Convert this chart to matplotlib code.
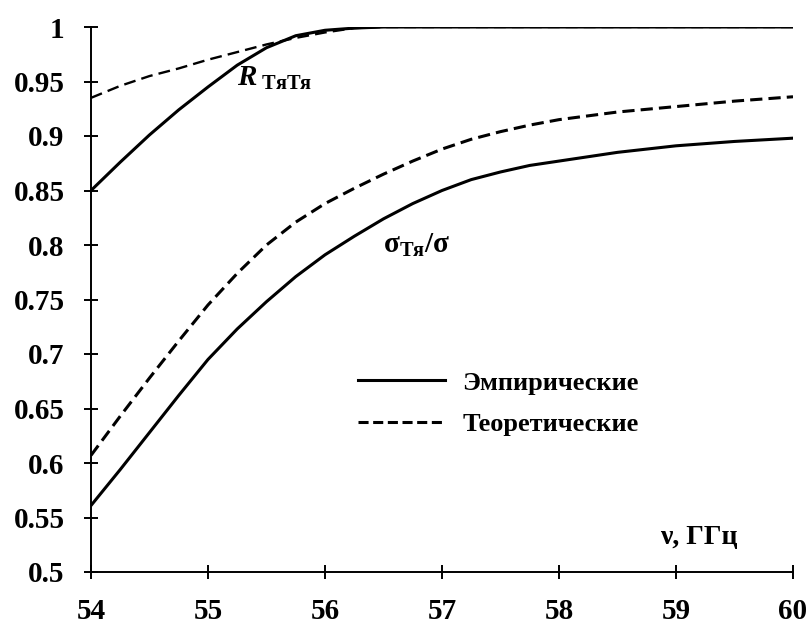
import numpy as np
import matplotlib
matplotlib.use("Agg")
import matplotlib.pyplot as plt
from matplotlib.lines import Line2D
from matplotlib.ticker import FuncFormatter

# frequency grid, GHz
freq = [54, 54.25, 54.5, 54.75, 55, 55.25, 55.5, 55.75, 56, 56.25, 56.5, 56.75,
        57, 57.25, 57.5, 57.75, 58, 58.5, 59, 59.5, 60]

# R_TяTя correlation
r_emp = [0.85, 0.876, 0.901, 0.924, 0.945, 0.965, 0.981, 0.992, 0.997, 0.999, 1.0, 1.0,
         1.0, 1.0, 1.0, 1.0, 1.0, 1.0, 1.0, 1.0, 1.0]
r_theor = [0.935, 0.946, 0.955, 0.962, 0.970, 0.977, 0.984, 0.990, 0.995, 0.999, 1.0, 1.0,
           1.0, 1.0, 1.0, 1.0, 1.0, 1.0, 1.0, 1.0, 1.0]

# sigma_Tя / sigma ratio
s_emp = [0.561, 0.594, 0.628, 0.662, 0.695, 0.723, 0.748, 0.771, 0.791, 0.808, 0.824, 0.838,
         0.850, 0.860, 0.867, 0.873, 0.877, 0.885, 0.891, 0.895, 0.898]
s_theor = [0.607, 0.643, 0.678, 0.712, 0.745, 0.774, 0.800, 0.821, 0.838, 0.852, 0.865, 0.877,
           0.888, 0.897, 0.904, 0.910, 0.915, 0.922, 0.927, 0.932, 0.936]

legend_labels = ["Эмпирические", "Теоретические"]

plt.rcParams["font.family"] = ["Liberation Serif", "DejaVu Serif"]
plt.rcParams["font.weight"] = "bold"
plt.rcParams["mathtext.fontset"] = "custom"
plt.rcParams["mathtext.rm"] = "Liberation Serif:bold"
plt.rcParams["mathtext.it"] = "Liberation Serif:italic:bold"

fig = plt.figure(figsize=(8.11, 6.3), dpi=100)
ax = fig.add_axes([91 / 811, 1 - 572 / 630, 702 / 811, 545 / 630])

ax.plot(freq, r_emp, color="black", lw=2.2)
ax.plot(freq, r_theor, color="black", lw=1.7, linestyle=(0, (5.0, 2.6)))
ax.plot(freq, s_emp, color="black", lw=2.2)
ax.plot(freq, s_theor, color="black", lw=2.2, linestyle=(0, (4.0, 2.0)))

ax.set_xlim(54, 60)
ax.set_ylim(0.5, 1.0)
ax.set_xticks(np.arange(54, 61, 1))
ax.set_yticks(np.arange(0.5, 1.001, 0.05))
ax.yaxis.set_major_formatter(FuncFormatter(lambda v, p: f"{v:.2f}".rstrip("0").rstrip(".")))

for side in ["top", "right"]:
    ax.spines[side].set_visible(False)
for side in ["left", "bottom"]:
    ax.spines[side].set_linewidth(1.4)
ax.tick_params(direction="inout", length=10, width=1.4, labelsize=21)
ax.tick_params(axis="y", pad=14)
ax.tick_params(axis="x", pad=14)

ax.text(55.25, 0.953, r"$\mathit{R}_{\ \mathrm{ТяТя}}$", fontsize=21,
        ha="left", va="center")
ax.text(56.78, 0.80, r"$\mathrm{σ}_{\mathrm{Тя}}/\mathrm{σ}$", fontsize=21,
        ha="center", va="center")
ax.text(0.81, 0.064, "ν, ГГц", transform=ax.transAxes, fontsize=20,
        ha="left", va="center")

handles = [Line2D([], [], color="black", lw=2.2),
           Line2D([], [], color="black", lw=2.2, linestyle=(0, (3.3, 1.5)))]
ax.legend(handles, legend_labels, frameon=False, fontsize=19,
          loc="center left", bbox_to_anchor=(0.362, 0.309), borderpad=0,
          handlelength=3.3, labelspacing=0.68, handletextpad=0.64)

fig.savefig("out.png", dpi=100)
